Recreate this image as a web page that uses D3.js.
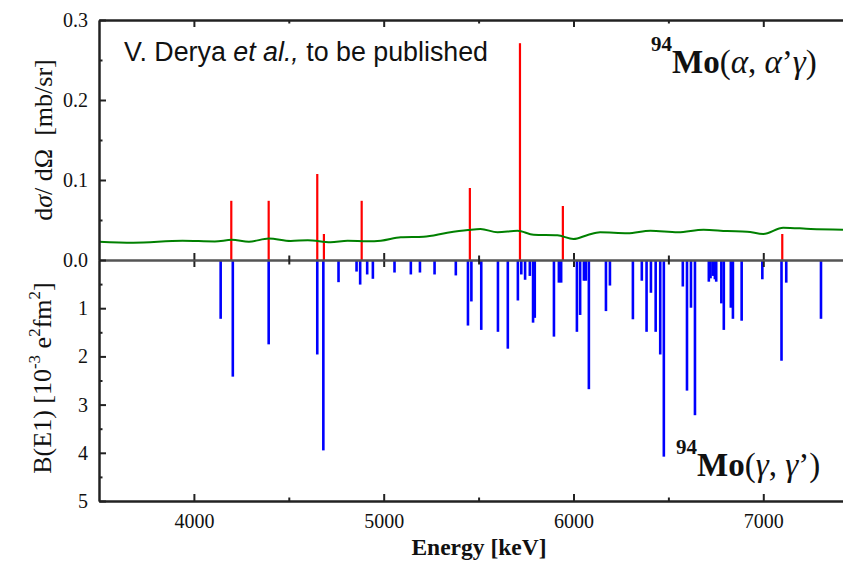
<!DOCTYPE html>
<html>
<head>
    <title>94Mo E1 strength</title>
    <style>
    body { margin: 0; background: #fff; }
    svg#chart text { font-family: "Liberation Serif", "Times New Roman", serif; fill: #111; }
    svg#chart .axis path, svg#chart .axis line { stroke: #222; stroke-width: 2; }
    svg#chart .axis text { font-size: 20px; }
    svg#chart .zero path { stroke: #555; stroke-width: 2.2; }
    svg#chart .zero line { stroke: #222; stroke-width: 2; }
    </style>
</head>
<body>
<svg id="chart" width="843" height="562"></svg>
<script src="https://d3js.org/d3.v7.min.js"></script>
<script>
// (alpha, alpha' gamma) lines: energy [keV], cross section [mb/sr]
var alphaEnergy = [4197, 4394, 4650, 4685, 4884, 5454, 5718, 5944, 7100];
var alphaXs     = [0.074, 0.074, 0.1075, 0.0325, 0.074, 0.090, 0.271, 0.0675, 0.0325];

// green curve (detection limit)
var limitEnergy = [3500, 3680, 3940, 4110, 4200, 4290, 4395, 4510, 4600, 4720, 4810, 4915, 4985,
                   5090, 5210, 5335, 5445, 5510, 5600, 5705, 5790, 5915, 6000, 6075, 6140, 6285,
                   6405, 6550, 6685, 6810, 6915, 7000, 7105, 7250, 7420];
var limitXs     = [0.0229, 0.0217, 0.0240, 0.0232, 0.0252, 0.0229, 0.0268, 0.0238, 0.0248, 0.0221, 0.0240, 0.0234, 0.0241,
                   0.0284, 0.0291, 0.0341, 0.0375, 0.0388, 0.0346, 0.0366, 0.0316, 0.0309, 0.0263, 0.0313, 0.0346, 0.0334,
                   0.0366, 0.0346, 0.0379, 0.0362, 0.0354, 0.0325, 0.0404, 0.0388, 0.0379];

// (gamma, gamma') lines: energy [keV], B(E1) [10^-3 e^2fm^2]
var gammaEnergy = [4141, 4205, 4394, 4650, 4682, 4762, 4857, 4876, 4913, 4943,
                   5057, 5143, 5191, 5268, 5380, 5444, 5462, 5514, 5602, 5654,
                   5707, 5725, 5745, 5770, 5787, 5796, 5897, 5923, 5935, 6018,
                   6035, 6055, 6065, 6081, 6171, 6192, 6313, 6360, 6385, 6408,
                   6433, 6457, 6476, 6576, 6598, 6619, 6640, 6713, 6722, 6734,
                   6745, 6752, 6779, 6792, 6829, 6840, 6886, 6995, 7096, 7121, 7304];
var gammaBE1    = [1.22, 2.42, 1.75, 1.96, 3.95, 0.46, 0.24, 0.51, 0.30, 0.39,
                   0.26, 0.30, 0.26, 0.30, 0.32, 1.36, 0.86, 1.45, 1.49, 1.84,
                   0.84, 0.30, 0.41, 0.33, 1.30, 1.20, 1.59, 0.47, 0.47, 1.49,
                   1.14, 0.43, 0.43, 2.68, 1.06, 0.53, 1.23, 0.43, 1.49, 0.68,
                   1.49, 1.96, 4.08, 0.55, 2.71, 0.99, 3.22, 0.45, 0.38, 0.33,
                   0.40, 0.45, 0.90, 1.45, 0.99, 1.22, 1.26, 0.40, 2.09, 0.47, 1.22];

var energyTicks = [4000, 5000, 6000, 7000];
var energyMinor = [4500, 5500, 6500];
var xsTicks     = [0, 0.1, 0.2, 0.3];
var xsMinor     = [0.05, 0.15, 0.25];
var be1Ticks    = [1, 2, 3, 4, 5];
var be1Minor    = [0.5, 1.5, 2.5, 3.5, 4.5];

var svg = d3.select("svg#chart");

var x = d3.scaleLinear().domain([3500, 7420]).range([99, 843]);
var yTop = d3.scaleLinear().domain([0, 0.3]).range([260, 20]);
var yBot = d3.scaleLinear().domain([0, 5]).range([260, 501]);

// bars
svg.append("g").selectAll("rect")
    .data(gammaEnergy)
    .enter().append("rect")
    .attr("x", function(d) { return x(d) - 1.3; })
    .attr("y", yBot(0))
    .attr("width", 2.6)
    .attr("height", function(d, i) { return yBot(gammaBE1[i]) - yBot(0); })
    .attr("fill", "#0000ff");

svg.append("g").selectAll("rect")
    .data(alphaEnergy)
    .enter().append("rect")
    .attr("x", function(d) { return x(d) - 1.1; })
    .attr("y", function(d, i) { return yTop(alphaXs[i]); })
    .attr("width", 2.2)
    .attr("height", function(d, i) { return yTop(0) - yTop(alphaXs[i]); })
    .attr("fill", "#ff0000");

var line = d3.line()
    .x(function(d) { return x(d); })
    .y(function(d, i) { return yTop(limitXs[i]); })
    .curve(d3.curveMonotoneX);

svg.append("path")
    .datum(limitEnergy)
    .attr("d", line)
    .attr("fill", "none")
    .attr("stroke", "#008000")
    .attr("stroke-width", 2);

// zero line with crossing ticks
var zero = svg.append("g").attr("class", "zero")
    .attr("transform", "translate(0," + yTop(0) + ")")
    .call(d3.axisBottom(x).tickValues(energyTicks).tickSize(7).tickSizeOuter(0).tickFormat(""));
zero.selectAll("line").attr("y1", -7);
var zeroMinor = svg.append("g").attr("class", "zero")
    .attr("transform", "translate(0," + yTop(0) + ")")
    .call(d3.axisBottom(x).tickValues(energyMinor).tickSize(4.5).tickSizeOuter(0).tickFormat(""));
zeroMinor.selectAll("line").attr("y1", -4.5);

// frame axes
svg.append("g").attr("class", "axis")
    .attr("transform", "translate(0,20)")
    .call(d3.axisTop(x).tickValues(energyTicks).tickSize(-7).tickSizeOuter(0).tickFormat(""));
svg.append("g").attr("class", "axis")
    .attr("transform", "translate(0,20)")
    .call(d3.axisTop(x).tickValues(energyMinor).tickSize(-3.5).tickSizeOuter(0).tickFormat(""));

svg.append("g").attr("class", "axis")
    .attr("transform", "translate(0,501)")
    .call(d3.axisBottom(x).tickValues(energyTicks).tickSize(-7).tickSizeOuter(0).tickPadding(13).tickFormat(d3.format("d")));
svg.append("g").attr("class", "axis")
    .attr("transform", "translate(0,501)")
    .call(d3.axisBottom(x).tickValues(energyMinor).tickSize(-3.5).tickSizeOuter(0).tickFormat(""));

svg.append("g").attr("class", "axis")
    .attr("transform", "translate(99,0)")
    .call(d3.axisLeft(yTop).tickValues(xsTicks).tickSize(-7).tickSizeOuter(0).tickPadding(11).tickFormat(d3.format(".1f")));
svg.append("g").attr("class", "axis")
    .attr("transform", "translate(99,0)")
    .call(d3.axisLeft(yTop).tickValues(xsMinor).tickSize(-3.5).tickSizeOuter(0).tickFormat(""));

svg.append("g").attr("class", "axis")
    .attr("transform", "translate(99,0)")
    .call(d3.axisLeft(yBot).tickValues(be1Ticks).tickSize(-7).tickSizeOuter(0).tickPadding(11).tickFormat(d3.format("d")));
svg.append("g").attr("class", "axis")
    .attr("transform", "translate(99,0)")
    .call(d3.axisLeft(yBot).tickValues(be1Minor).tickSize(-3.5).tickSizeOuter(0).tickFormat(""));

// titles
var t1 = svg.append("text")
    .attr("transform", "translate(52,140) rotate(-90)")
    .attr("text-anchor", "middle")
    .style("font-size", "26px");
t1.append("tspan").text("d");
t1.append("tspan").style("font-style", "italic").text("σ");
t1.append("tspan").text("/ dΩ\u00a0\u00a0[mb/sr]");

var t2 = svg.append("text")
    .attr("transform", "translate(51,378) rotate(-90)")
    .attr("text-anchor", "middle")
    .style("font-size", "26px");
t2.append("tspan").text("B(E1) [10");
t2.append("tspan").attr("dy", -11).style("font-size", "17px").text("-3");
t2.append("tspan").attr("dy", 11).text(" e");
t2.append("tspan").attr("dy", -11).style("font-size", "17px").text("2");
t2.append("tspan").attr("dy", 11).text("fm");
t2.append("tspan").attr("dy", -11).style("font-size", "17px").text("2");
t2.append("tspan").attr("dy", 11).text("]");

svg.append("text")
    .attr("x", 479).attr("y", 555)
    .attr("text-anchor", "middle")
    .style("font-size", "23.5px").style("font-weight", "bold")
    .text("Energy [keV]");

var note = svg.append("text")
    .attr("x", 124).attr("y", 61)
    .style("font-family", "'Liberation Sans', Arial, sans-serif")
    .style("font-size", "26.8px");
note.append("tspan").text("V. Derya ");
note.append("tspan").style("font-style", "italic").text("et al.,");
note.append("tspan").text(" to be published");

function reaction(xPos, yPos, inner) {
    var t = svg.append("text").attr("x", xPos).attr("y", yPos).style("font-size", "33px");
    t.append("tspan").attr("dy", -22).style("font-size", "21px").style("font-weight", "bold").text("94");
    t.append("tspan").attr("dy", 22).style("font-weight", "bold").text("Mo");
    t.append("tspan").text("(");
    inner.forEach(function(p) {
        t.append("tspan").style("font-style", p[1] ? "italic" : "normal").text(p[0]);
    });
    t.append("tspan").text(")");
}
reaction(651, 73, [["α", 1], [", ", 0], ["α", 1], ["’", 0], ["γ", 1]]);
reaction(676, 476, [["γ", 1], [", ", 0], ["γ", 1], ["’", 0]]);
</script>
</body>
</html>
